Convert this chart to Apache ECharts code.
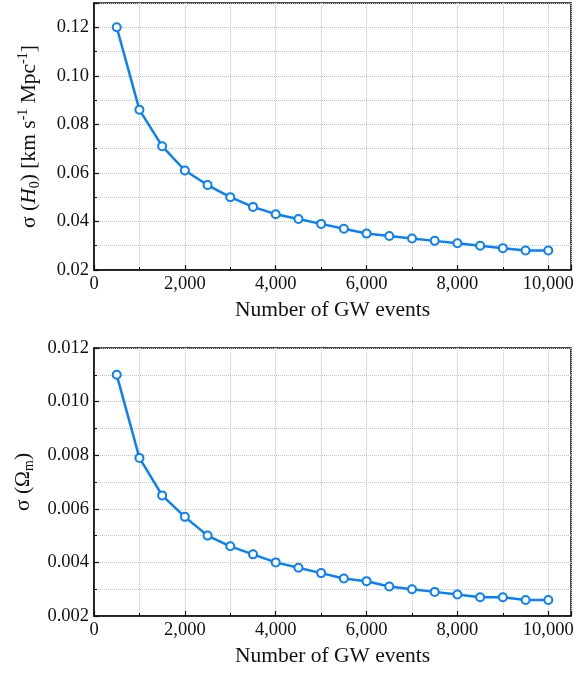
<!DOCTYPE html>
<html><head><meta charset="utf-8">
<script src="https://cdn.jsdelivr.net/npm/echarts@6/dist/echarts.min.js"></script>
<style>html,body{margin:0;padding:0;background:#fff}#c{width:578px;height:673px}</style>
</head><body><div id="c"></div>
<script>
const events = [500,1000,1500,2000,2500,3000,3500,4000,4500,5000,5500,6000,6500,7000,7500,8000,8500,9000,9500,10000];
const sigmaH0 = [0.120,0.086,0.071,0.061,0.055,0.050,0.046,0.043,0.041,0.039,0.037,0.035,0.034,0.033,0.032,0.031,0.030,0.029,0.028,0.028];
const sigmaOm = [0.0110,0.0079,0.0065,0.0057,0.0050,0.0046,0.0043,0.0040,0.0038,0.0036,0.0034,0.0033,0.0031,0.0030,0.0029,0.0028,0.0027,0.0027,0.0026,0.0026];

const FONT = '"Liberation Serif","Times New Roman",serif';
const BLUE = '#0880fa';
const TICKFS = 18.5, TITLEFS = 21.5;
const chart = echarts.init(document.getElementById('c'));

const richBase = {
  a:{fontFamily:FONT,fontSize:TITLEFS,color:'#111',lineHeight:26,verticalAlign:'middle'},
  i:{fontFamily:FONT,fontSize:TITLEFS,color:'#111',fontStyle:'italic',lineHeight:26,verticalAlign:'middle'},
  sub:{fontFamily:FONT,fontSize:14,color:'#111',lineHeight:15,verticalAlign:'bottom'},
  sup:{fontFamily:FONT,fontSize:14,color:'#111',lineHeight:15,verticalAlign:'top'}
};
function xAxis(gi){
  return {
    type:'value', gridIndex:gi, min:0, max:10500, interval:2000,
    name:'Number of GW events', nameLocation:'middle', nameGap:29,
    nameTextStyle:{fontFamily:FONT,fontSize:TITLEFS,color:'#111'},
    axisLine:{lineStyle:{color:'#111',width:1.5}},
    axisTick:{inside:true,length:5,lineStyle:{color:'#111',width:1.2}},
    minorTick:{show:true,splitNumber:2,length:3,lineStyle:{color:'#111',width:1}},
    minorSplitLine:{show:true,lineStyle:{color:'#c4c4c4',type:'dotted',width:1}},
    splitLine:{show:true,lineStyle:{color:'#c4c4c4',type:'dotted',width:1}},
    axisLabel:{fontFamily:FONT,fontSize:TICKFS,color:'#111',margin:5,showMaxLabel:false,
      formatter:v=>v.toLocaleString('en-US')}
  };
}
function yAxis(gi,min,max,interval,dec,name,gap){
  return {
    type:'value', gridIndex:gi, min:min, max:max, interval:interval,
    name:name, nameLocation:'middle', nameGap:gap, nameRotate:90,
    nameTextStyle:{fontFamily:FONT,fontSize:TITLEFS,color:'#111',rich:richBase},
    axisLine:{lineStyle:{color:'#111',width:1.5}},
    axisTick:{inside:true,length:5,lineStyle:{color:'#111',width:1.2}},
    minorTick:{show:true,splitNumber:2,length:3,lineStyle:{color:'#111',width:1}},
    minorSplitLine:{show:true,lineStyle:{color:'#c4c4c4',type:'dotted',width:1}},
    splitLine:{show:true,lineStyle:{color:'#c4c4c4',type:'dotted',width:1}},
    axisLabel:{fontFamily:FONT,fontSize:TICKFS,color:'#111',margin:5,showMaxLabel:dec===3,
      formatter:v=>v.toFixed(dec)}
  };
}
function series(xi,data){
  return {
    type:'line', xAxisIndex:xi, yAxisIndex:xi,
    data: events.map((e,k)=>[e,data[k]]),
    lineStyle:{color:BLUE,width:2.5},
    symbol:'circle', symbolSize:8,
    itemStyle:{color:'#fff',borderColor:BLUE,borderWidth:2},
    z:5
  };
}
chart.setOption({
  animation:false,
  backgroundColor:'#fff',
  grid:[
    {left:94,top:3,width:477,height:267,show:true,borderColor:'#111',borderWidth:1.5,backgroundColor:'transparent'},
    {left:94,top:348,width:477,height:268,show:true,borderColor:'#111',borderWidth:1.5,backgroundColor:'transparent'}
  ],
  xAxis:[xAxis(0),xAxis(1)],
  yAxis:[
    yAxis(0,0.02,0.13,0.02,2,'{a|σ (}{i|H}{sub|0}{a|) [km s}{sup|-1}{a| Mpc}{sup|-1}{a|]}',52),
    yAxis(1,0.002,0.012,0.002,3,'{a|σ (Ω}{sub|m}{a|)}',55)
  ],
  series:[series(0,sigmaH0),series(1,sigmaOm)]
});
</script></body></html>
